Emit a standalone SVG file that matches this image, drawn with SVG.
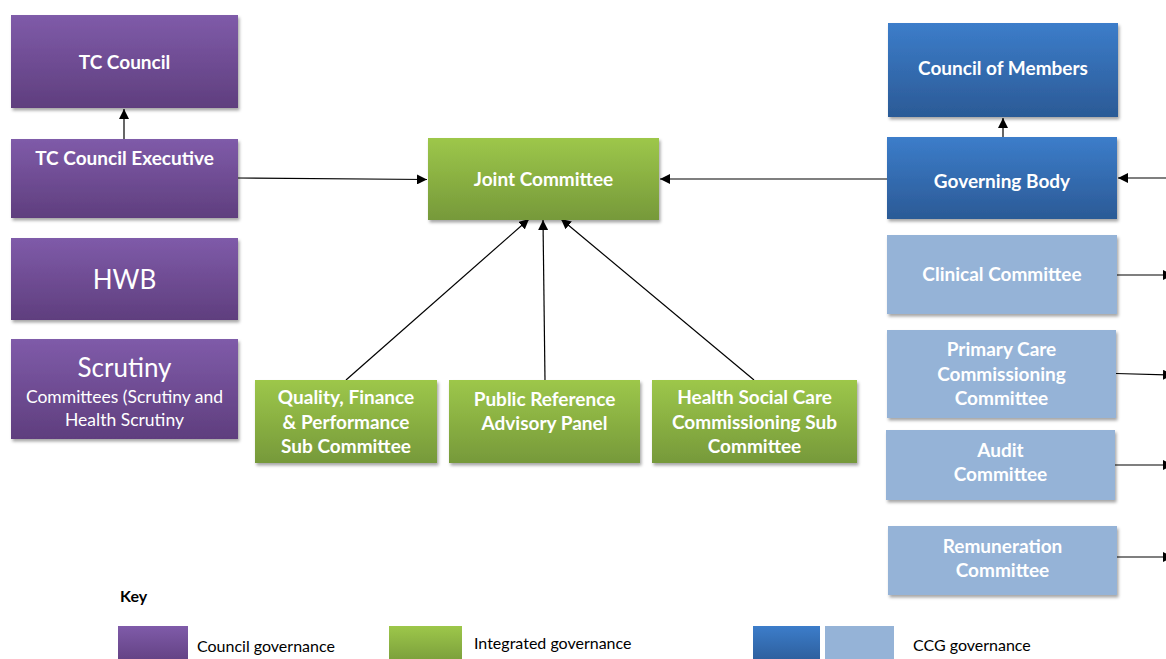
<svg xmlns="http://www.w3.org/2000/svg" width="1166" height="659" viewBox="0 0 1166 659">
<defs>
<linearGradient id="gP" x1="0" y1="0" x2="0" y2="1"><stop offset="0" stop-color="#7f5ba9"/><stop offset="1" stop-color="#5f3e7e"/></linearGradient>
<linearGradient id="gG" x1="0" y1="0" x2="0" y2="1"><stop offset="0" stop-color="#9dc74a"/><stop offset="1" stop-color="#76993a"/></linearGradient>
<linearGradient id="gB" x1="0" y1="0" x2="0" y2="1"><stop offset="0" stop-color="#3c7dca"/><stop offset="1" stop-color="#2b5a96"/></linearGradient>
<filter id="sh" x="-10%" y="-10%" width="125%" height="130%"><feDropShadow dx="1.5" dy="2.5" stdDeviation="1.5" flood-color="#000" flood-opacity="0.35"/></filter>
<marker id="ah" viewBox="0 0 10 10" refX="10" refY="5" markerWidth="10" markerHeight="10" markerUnits="userSpaceOnUse" orient="auto"><path d="M0,0 L10,5 L0,10 z" fill="#000"/></marker>
</defs>
<style>
.p{fill:url(#gP);filter:url(#sh)}
.g{fill:url(#gG);filter:url(#sh)}
.b{fill:url(#gB);filter:url(#sh)}
.lb{fill:#95b3d7;filter:url(#sh)}
.t{font-family:Lato,"Open Sans","Liberation Sans",sans-serif;font-weight:bold;font-size:19px;fill:#fff;text-anchor:middle}
.tl{font-family:Lato,"Open Sans","Liberation Sans",sans-serif;font-size:26px;fill:#fff;text-anchor:middle}
.ts{font-family:Lato,"Open Sans","Liberation Sans",sans-serif;font-size:17.5px;fill:#fff;text-anchor:middle}
.k{font-family:Lato,"Open Sans","Liberation Sans",sans-serif;font-size:16px;fill:#000}
.c{stroke:#000;stroke-width:1.2;fill:none;marker-end:url(#ah)}
</style>
<rect width="1166" height="659" fill="#fff"/>

<g id="connectors">
<line class="c" x1="124" y1="139" x2="124" y2="109"/>
<line class="c" x1="238" y1="178" x2="427" y2="179.5"/>
<line class="c" x1="887" y1="179" x2="660" y2="179"/>
<line class="c" x1="1003" y1="137" x2="1003" y2="118"/>
<line class="c" x1="1166" y1="178" x2="1118" y2="178"/>
<line class="c" x1="346" y1="380" x2="529" y2="219"/>
<line class="c" x1="545" y1="380" x2="543" y2="220"/>
<line class="c" x1="754" y1="380" x2="561" y2="219"/>
<line class="c" x1="1117" y1="275" x2="1173" y2="275"/>
<line class="c" x1="1116" y1="373.5" x2="1173" y2="375"/>
<line class="c" x1="1115" y1="465" x2="1173" y2="465"/>
<line class="c" x1="1117" y1="557" x2="1173" y2="557"/>
</g>

<g id="tc-council"><rect class="p" x="11" y="15" width="227" height="93"/><text class="t" x="124.5" y="69">TC Council</text></g>
<g id="tc-council-executive"><rect class="p" x="11" y="139" width="227" height="79"/><text class="t" x="124.5" y="165">TC Council Executive</text></g>
<g id="hwb"><rect class="p" x="11" y="238" width="227" height="82"/><text class="tl" x="124.5" y="289">HWB</text></g>
<g id="scrutiny"><rect class="p" x="11" y="339" width="227" height="100"/><text class="tl" x="124.5" y="377" font-size="28">Scrutiny</text><text class="ts" x="124.5" y="403">Committees (Scrutiny and</text><text class="ts" x="124.5" y="426">Health Scrutiny</text></g>

<g id="joint-committee"><rect class="g" x="428" y="138" width="231" height="82"/><text class="t" x="543.5" y="186">Joint Committee</text></g>
<g id="quality-finance"><rect class="g" x="255" y="380" width="182" height="83"/><text class="t" x="346" y="404">Quality, Finance</text><text class="t" x="346" y="429">&amp; Performance</text><text class="t" x="346" y="453">Sub Committee</text></g>
<g id="public-reference"><rect class="g" x="449" y="380" width="191" height="83"/><text class="t" x="544.5" y="406">Public Reference</text><text class="t" x="544.5" y="430">Advisory Panel</text></g>
<g id="health-social-care"><rect class="g" x="652" y="380" width="205" height="83"/><text class="t" x="754.5" y="404">Health Social Care</text><text class="t" x="754.5" y="429">Commissioning Sub</text><text class="t" x="754.5" y="453">Committee</text></g>

<g id="council-of-members"><rect class="b" x="888" y="23" width="230" height="94"/><text class="t" x="1003" y="75">Council of Members</text></g>
<g id="governing-body"><rect class="b" x="887" y="137" width="230" height="82"/><text class="t" x="1002" y="188">Governing Body</text></g>
<g id="clinical-committee"><rect class="lb" x="887" y="235" width="230" height="79"/><text class="t" x="1002" y="281">Clinical Committee</text></g>
<g id="primary-care"><rect class="lb" x="887" y="330" width="229" height="88"/><text class="t" x="1001.5" y="356">Primary Care</text><text class="t" x="1001.5" y="381">Commissioning</text><text class="t" x="1001.5" y="405">Committee</text></g>
<g id="audit-committee"><rect class="lb" x="886" y="430" width="229" height="70"/><text class="t" x="1000.5" y="457">Audit</text><text class="t" x="1000.5" y="481">Committee</text></g>
<g id="remuneration-committee"><rect class="lb" x="888" y="526" width="229" height="69"/><text class="t" x="1002.5" y="553">Remuneration</text><text class="t" x="1002.5" y="577">Committee</text></g>

<g id="key">
<text class="k" x="120" y="602" font-weight="bold">Key</text>
<rect x="118" y="626" width="70" height="40" fill="url(#gP)"/>
<text class="k" x="197" y="652">Council governance</text>
<rect x="389" y="626" width="73" height="40" fill="url(#gG)"/>
<text class="k" x="474" y="649">Integrated governance</text>
<rect x="753" y="626" width="67" height="40" fill="url(#gB)"/>
<rect x="825" y="626" width="69" height="40" fill="#95b3d7"/>
<text class="k" x="913" y="651">CCG governance</text>
</g>
</svg>
